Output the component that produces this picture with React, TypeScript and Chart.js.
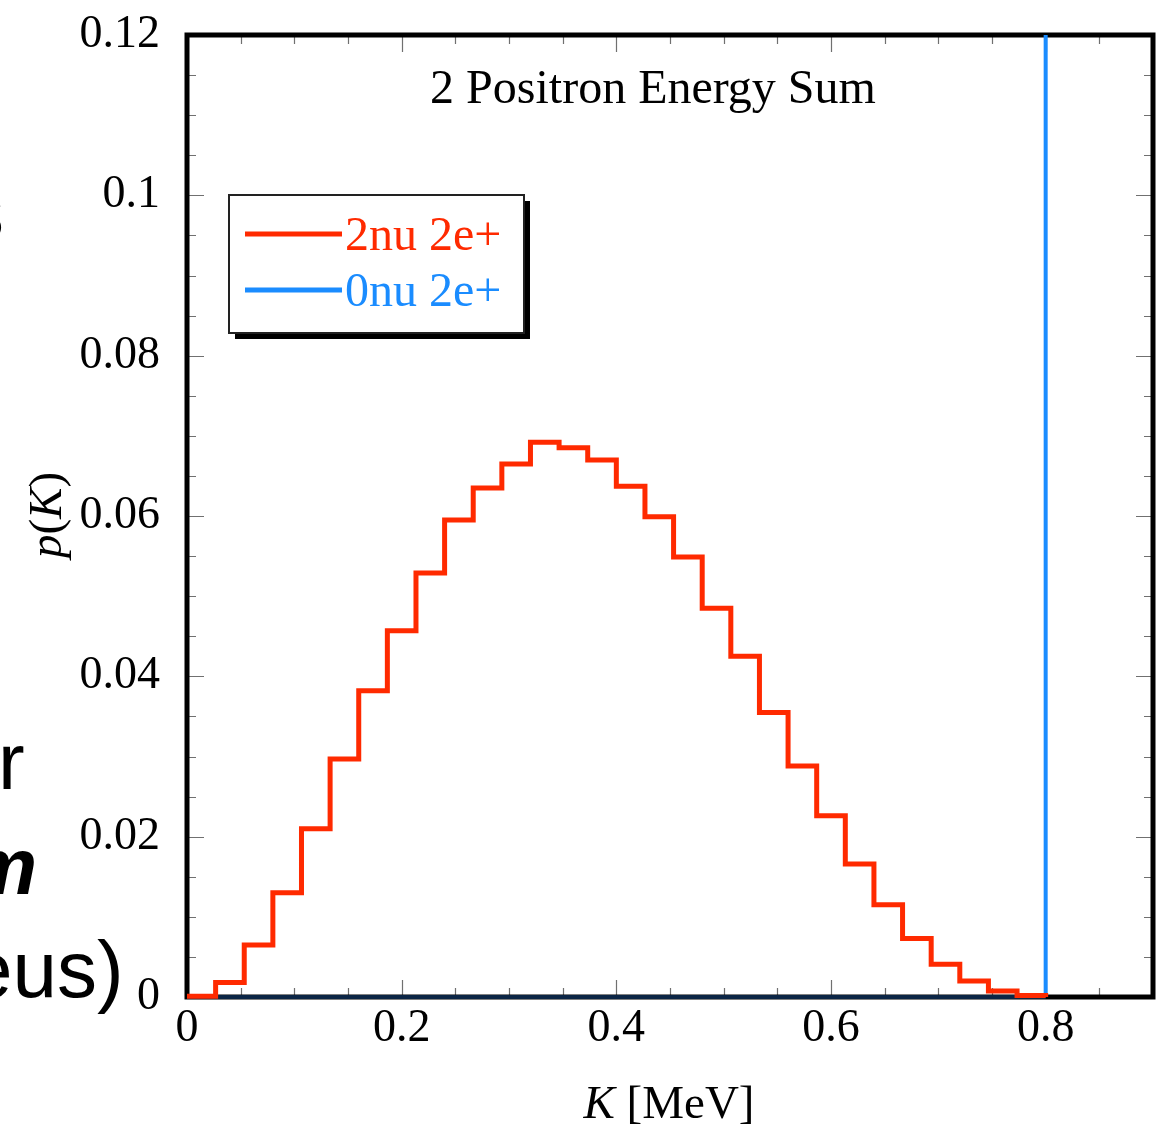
import React, { useEffect, useRef } from 'react';
import { Chart, registerables } from 'chart.js';

Chart.register(...registerables);

// ---- Data ----
const K_MIN = 0;
const K_MAX_SPECTRUM = 0.8; // MeV, endpoint of the 2-positron spectrum
const BIN_COUNT = 30;

// p(K) per bin for the 2nu 2e+ histogram (30 equal bins from 0 to 0.8 MeV)
const twoNuValues = [
  0.0001, 0.0018, 0.0065, 0.013, 0.021, 0.0297, 0.0382, 0.0457, 0.0529, 0.0595,
  0.0635, 0.0665, 0.0692, 0.0685, 0.067, 0.0637, 0.0599, 0.0549, 0.0485, 0.0425,
  0.0355, 0.0288, 0.0226, 0.0166, 0.0115, 0.0073, 0.0041, 0.002, 0.00075, 0.0002,
];

// 0nu 2e+ : a line at zero up to the endpoint, then a spike at 0.8 MeV
const zeroNuK = [0, 0.8, 0.8];
const zeroNuP = [0, 0, 0.12];

const xTickValues = [0, 0.2, 0.4, 0.6, 0.8];
const xTickLabels = ['0', '0.2', '0.4', '0.6', '0.8'];
const yTickValues = [0, 0.02, 0.04, 0.06, 0.08, 0.1, 0.12];
const yTickLabels = ['0', '0.02', '0.04', '0.06', '0.08', '0.1', '0.12'];

const seriesLabels = ['2nu 2e+', '0nu 2e+'];
const chartTitle = '2 Positron Energy Sum';

const RED = '#ff2a00';
const BLUE = '#1a8cff';
const NAVY = '#0b2545';
const SERIF = '"Liberation Serif", "Times New Roman", serif';

function App() {
  const canvasRef = useRef<HTMLCanvasElement | null>(null);

  useEffect(() => {
    const canvas = canvasRef.current;
    if (!canvas) return;

    const binW = (K_MAX_SPECTRUM - K_MIN) / BIN_COUNT;
    const twoNuPoints = twoNuValues.map((v, i) => ({ x: K_MIN + i * binW, y: v }));
    twoNuPoints.push({ x: K_MAX_SPECTRUM, y: twoNuValues[twoNuValues.length - 1] });
    twoNuPoints.push({ x: K_MAX_SPECTRUM, y: 0 });
    const zeroNuPoints = zeroNuK.map((k, i) => ({ x: k, y: zeroNuP[i] }));

    const framePlugin = {
      id: 'frameAndTicks',
      beforeDatasetsDraw(chart: any) {
        const { ctx, chartArea: a, scales } = chart;
        const x = scales.x;
        const y = scales.y;
        ctx.save();
        // inward tick marks
        ctx.strokeStyle = '#707070';
        ctx.lineWidth = 1.2;
        ctx.beginPath();
        for (let i = 1; i <= 17; i++) {
          const px = Math.round(x.getPixelForValue(i * 0.05)) + 0.5;
          const len = i % 4 === 0 ? 17 : 9;
          ctx.moveTo(px, a.bottom);
          ctx.lineTo(px, a.bottom - len);
          ctx.moveTo(px, a.top);
          ctx.lineTo(px, a.top + len);
        }
        for (let i = 1; i <= 23; i++) {
          const py = Math.round(y.getPixelForValue(i * 0.005)) + 0.5;
          const len = i % 4 === 0 ? 17 : 9;
          ctx.moveTo(a.left, py);
          ctx.lineTo(a.left + len, py);
          ctx.moveTo(a.right, py);
          ctx.lineTo(a.right - len, py);
        }
        ctx.stroke();
        // frame
        ctx.strokeStyle = '#000';
        ctx.lineWidth = 5;
        ctx.strokeRect(a.left, a.top, a.right - a.left, a.bottom - a.top);
        ctx.restore();
      },
      afterDraw(chart: any) {
        const { ctx } = chart;
        ctx.save();
        ctx.fillStyle = '#000';
        ctx.textBaseline = 'alphabetic';

        // title inside plot
        ctx.font = `48px ${SERIF}`;
        ctx.textAlign = 'center';
        ctx.fillText(chartTitle, 653, 103);

        // x-axis title: K [MeV]
        ctx.textAlign = 'left';
        const italic = `italic 47px ${SERIF}`;
        const normal = `47px ${SERIF}`;
        ctx.font = italic;
        const wK = ctx.measureText('K').width;
        ctx.font = normal;
        const wRest = ctx.measureText(' [MeV]').width;
        const cx = 669;
        const sx = cx - (wK + wRest) / 2;
        ctx.font = italic;
        ctx.fillText('K', sx, 1118);
        ctx.font = normal;
        ctx.fillText(' [MeV]', sx + wK, 1118);

        // y-axis title: p(K), rotated
        ctx.translate(61, 515);
        ctx.rotate(-Math.PI / 2);
        const parts: [string, string][] = [
          ['p', italic],
          ['(', normal],
          ['K', italic],
          [')', normal],
        ];
        let total = 0;
        const widths = parts.map(([t, f]) => {
          ctx.font = f;
          const w = ctx.measureText(t).width;
          total += w;
          return w;
        });
        let px = -total / 2;
        parts.forEach(([t, f], i) => {
          ctx.font = f;
          ctx.fillText(t, px, 0);
          px += widths[i];
        });
        ctx.restore();

        // legend box with drop shadow
        ctx.save();
        const lx = 229, ly = 195, lw = 295, lh = 138;
        ctx.fillStyle = '#000';
        ctx.fillRect(lx + 6, ly + 6, lw, lh);
        ctx.fillStyle = '#fff';
        ctx.fillRect(lx, ly, lw, lh);
        ctx.strokeStyle = '#222';
        ctx.lineWidth = 2;
        ctx.strokeRect(lx, ly, lw, lh);
        const colors = [RED, BLUE];
        const rows = [234, 290];
        ctx.font = `48px ${SERIF}`;
        ctx.textBaseline = 'middle';
        ctx.textAlign = 'left';
        seriesLabels.forEach((label, i) => {
          ctx.strokeStyle = colors[i];
          ctx.lineWidth = 5;
          ctx.beginPath();
          ctx.moveTo(245, rows[i]);
          ctx.lineTo(342, rows[i]);
          ctx.stroke();
          ctx.fillStyle = colors[i];
          ctx.fillText(label, 345, rows[i] + 3);
        });
        ctx.restore();
      },
    };

    const chart = new Chart(canvas, {
      type: 'line',
      data: {
        datasets: [
          {
            label: seriesLabels[0],
            data: twoNuPoints,
            borderColor: RED,
            borderWidth: 5,
            stepped: 'before',
            pointRadius: 0,
            fill: false,
            clip: 6,
            borderJoinStyle: 'miter',
          },
          {
            label: seriesLabels[1],
            data: zeroNuPoints,
            borderColor: BLUE,
            borderWidth: 4,
            pointRadius: 0,
            fill: false,
            clip: 6,
            segment: {
              borderColor: (c: any) =>
                c.p0.parsed.y === 0 && c.p1.parsed.y === 0 ? NAVY : undefined,
            },
          },
        ] as any,
      },
      options: {
        responsive: false,
        animation: false,
        devicePixelRatio: 1,
        layout: { padding: { left: 0, right: 4, top: 35, bottom: 0 } },
        plugins: {
          legend: { display: false },
          title: { display: false },
          tooltip: { enabled: false },
        },
        scales: {
          x: {
            type: 'linear',
            min: 0,
            max: 0.9,
            grid: { display: false, drawTicks: false },
            border: { display: false },
            afterBuildTicks: (scale: any) => {
              scale.ticks = xTickValues.map((v) => ({ value: v }));
            },
            afterFit: (scale: any) => {
              scale.height = 131;
              scale.paddingLeft = 0;
              scale.paddingRight = 0;
            },
            ticks: {
              autoSkip: false,
              maxRotation: 0,
              padding: 4,
              color: '#000',
              font: { family: SERIF, size: 46 },
              callback: (_v: any, i: number) => xTickLabels[i],
            },
          },
          y: {
            type: 'linear',
            min: 0,
            max: 0.12,
            grid: { display: false, drawTicks: false },
            border: { display: false },
            afterBuildTicks: (scale: any) => {
              scale.ticks = yTickValues.map((v) => ({ value: v }));
            },
            afterFit: (scale: any) => {
              scale.width = 187;
              scale.paddingTop = 0;
              scale.paddingBottom = 0;
            },
            ticks: {
              autoSkip: false,
              padding: 27,
              color: '#000',
              font: { family: SERIF, size: 46 },
              callback: (_v: any, i: number) => yTickLabels[i],
            },
          },
        },
      } as any,
      plugins: [framePlugin],
    });

    return () => {
      chart.destroy();
    };
  }, []);

  const frag: React.CSSProperties = {
    position: 'absolute',
    fontFamily: '"Liberation Sans", Arial, sans-serif',
    fontSize: 80,
    lineHeight: 1,
    whiteSpace: 'nowrap',
    color: '#000',
  };

  return (
    <div
      style={{
        position: 'absolute',
        left: 0,
        top: 0,
        width: 1157,
        height: 1128,
        overflow: 'hidden',
        background: '#fff',
      }}
    >
      <span style={{ ...frag, left: -36, top: 172 }}>s</span>
      <span style={{ ...frag, left: -2, top: 722 }}>r</span>
      <span style={{ ...frag, left: -34, top: 827, fontWeight: 'bold', fontStyle: 'italic' }}>m</span>
      <span style={{ ...frag, left: -32, top: 930 }}>eus)</span>
      <canvas
        ref={canvasRef}
        width={1157}
        height={1128}
        style={{ position: 'absolute', left: 0, top: 0, width: 1157, height: 1128 }}
      />
    </div>
  );
}

export default App;
